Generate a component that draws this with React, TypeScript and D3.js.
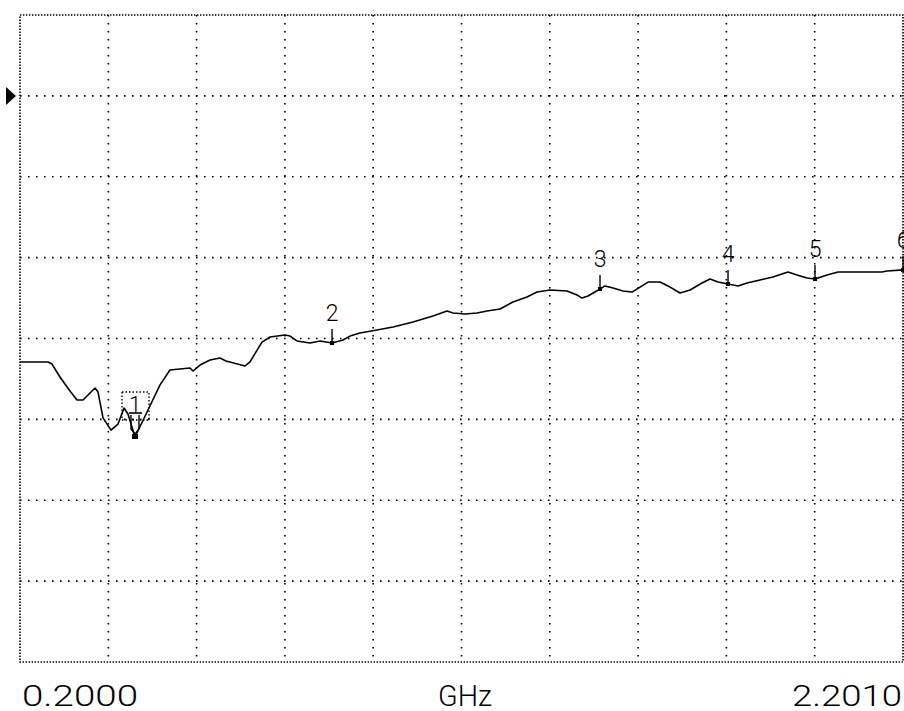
import React from 'react';
import * as d3 from 'd3';

// Trace: frequency (GHz) vs magnitude (dB), ref line = 0 dB, 5 dB/div
const freqGHz = [
  0.2000, 0.2635, 0.2725, 0.2906, 0.3133, 0.3292, 0.3428, 0.3700, 0.3768, 0.3881,
  0.4062, 0.4221, 0.4357, 0.4447, 0.4606, 0.4901, 0.5173, 0.5399, 0.5853, 0.5921,
  0.6079, 0.6306, 0.6532, 0.6668, 0.7099, 0.7212, 0.7484, 0.7666, 0.8005, 0.8119,
  0.8277, 0.8572, 0.8799, 0.9071, 0.9320, 0.9478, 0.9705, 1.0090, 1.0453, 1.0906,
  1.1359, 1.1677, 1.1813, 1.2085, 1.2357, 1.2583, 1.2878, 1.3172, 1.3490, 1.3716,
  1.4011, 1.4396, 1.4623, 1.4736, 1.4872, 1.5144, 1.5257, 1.5439, 1.5665, 1.5869,
  1.6096, 1.6232, 1.6504, 1.6685, 1.6957, 1.7184, 1.7455, 1.7637, 1.7818, 1.8045,
  1.8271, 1.8475, 1.8770, 1.9064, 1.9404, 1.9608, 1.9835, 2.0016, 2.0288, 2.0538,
  2.0877, 2.1195, 2.1535, 2.1648, 2.2011,
];
const magDb = [
  -16.45, -16.45, -16.58, -17.38, -18.25, -18.80, -18.80, -18.06, -18.31, -19.91,
  -20.66, -20.29, -19.30, -19.67, -21.09, -19.42, -17.87, -16.95, -16.82, -17.01,
  -16.64, -16.33, -16.21, -16.39, -16.70, -16.45, -15.22, -14.91, -14.78, -14.85,
  -15.15, -15.28, -15.15, -15.28, -15.09, -14.85, -14.66, -14.47, -14.29, -13.98,
  -13.61, -13.30, -13.42, -13.49, -13.42, -13.30, -13.18, -12.74, -12.43, -12.13,
  -12.00, -12.06, -12.31, -12.50, -12.37, -11.94, -11.75, -11.88, -12.06, -12.13,
  -11.75, -11.51, -11.51, -11.75, -12.19, -12.00, -11.57, -11.32, -11.51, -11.63,
  -11.75, -11.57, -11.38, -11.20, -10.89, -11.07, -11.26, -11.32, -11.07, -10.89,
  -10.89, -10.89, -10.89, -10.83, -10.76,
];

const markerIds = ['1', '2', '3', '4', '5', '6'];
const markerFreqGHz = [0.4606, 0.9071, 1.5144, 1.8045, 2.0016, 2.2011];
const activeMarker = '1';

const startFreqGHz = 0.2;
const stopFreqGHz = 2.201;
const startLabel = '0.2000';
const stopLabel = '2.2010';
const unitLabel = 'GHz';
const topDb = 5;
const bottomDb = -35;
const refDb = 0;
const divX = 10;
const divY = 8;

function interpAt(f: number): number {
  const i = d3.bisectLeft(freqGHz, f);
  if (i <= 0) return magDb[0];
  if (i >= freqGHz.length) return magDb[magDb.length - 1];
  const f0 = freqGHz[i - 1], f1 = freqGHz[i];
  const t = (f - f0) / (f1 - f0);
  return magDb[i - 1] + t * (magDb[i] - magDb[i - 1]);
}

export default function App() {
  const W = 904, H = 711;
  const L = 20, R = 903, T = 15, B = 662;
  const x = d3.scaleLinear().domain([startFreqGHz, stopFreqGHz]).range([L, R]);
  const y = d3.scaleLinear().domain([bottomDb, topDb]).range([B, T]);
  const pts: [number, number][] = freqGHz.map((f, i) => [f, magDb[i]]);
  const line = d3.line<[number, number]>().x(d => x(d[0])).y(d => y(d[1]));

  const gx = d3.range(1, divX).map(k => L + ((R - L) * k) / divX);
  const gy = d3.range(1, divY).map(k => T + ((B - T) * k) / divY);
  const font = 'Roboto, "DejaVu Sans", sans-serif';
  const refY = y(refDb);

  return (
    <svg width={W} height={H} style={{ position: 'absolute', left: 0, top: 0, background: '#fff' }}>
      <rect x={0} y={0} width={W} height={H} fill="#fff" />
      {/* grid */}
      {gx.map((gxv, i) => (
        <line key={'vx' + i} x1={gxv} x2={gxv} y1={T} y2={B} stroke="#000" strokeWidth={1.6} strokeDasharray="1.6 6.4" />
      ))}
      {gy.map((gyv, i) => (
        <line key={'hy' + i} x1={L} x2={R} y1={gyv} y2={gyv} stroke="#000" strokeWidth={1.6} strokeDasharray="1.6 6.4" />
      ))}
      {/* frame */}
      <rect x={L} y={T} width={R - L} height={B - T} fill="none" stroke="#000" strokeWidth={1.6} strokeDasharray="1.4 1.6" />
      {/* reference arrow */}
      <path d={`M6,${refY - 9} L16,${refY} L6,${refY + 9} Z`} fill="#000" />
      {/* trace */}
      <path d={line(pts) || ''} fill="none" stroke="#000" strokeWidth={1.6} strokeLinejoin="round" />
      {/* markers */}
      {markerIds.map((id, i) => {
        const px = x(markerFreqGHz[i]);
        const py = y(interpAt(markerFreqGHz[i]));
        if (id === activeMarker) {
          return (
            <g key={'m' + id}>
              <rect x={px - 13} y={py - 45} width={27} height={28} fill="none" stroke="#000" strokeWidth={1.4} strokeDasharray="1.5 2" />
              <text x={px} y={py - 25} fontFamily={font} fontSize={22} fontWeight={300} textAnchor="middle" fill="#000">{id}</text>
              <line x1={px - 6} x2={px + 7} y1={py - 24} y2={py - 24} stroke="#000" strokeWidth={1.6} />
              <path d={`M${px - 4},${py - 22} L${px - 4},${py - 8} L${px},${py - 3} L${px + 4},${py - 8} L${px + 4},${py - 22}`} fill="none" stroke="#000" strokeWidth={1.4} />
              <rect x={px - 3} y={py - 3} width={6} height={5} fill="#000" />
            </g>
          );
        }
        return (
          <g key={'m' + id}>
            <text x={px} y={py - 22} fontFamily={font} fontSize={23} fontWeight={300} textAnchor="middle" fill="#000">{id}</text>
            <line x1={px} x2={px} y1={py - 14} y2={py} stroke="#000" strokeWidth={1.4} />
            <rect x={px - 2} y={py - 2} width={4} height={4} fill="#000" />
          </g>
        );
      })}
      {/* axis annotations */}
      <text x={22} y={706} fontFamily={font} fontSize={30} fontWeight={300} textLength={116} lengthAdjust="spacingAndGlyphs" fill="#000">{startLabel}</text>
      <text x={438} y={706} fontFamily={font} fontSize={29} fontWeight={300} textLength={54} lengthAdjust="spacingAndGlyphs" fill="#000">{unitLabel}</text>
      <text x={792} y={706} fontFamily={font} fontSize={30} fontWeight={300} textLength={110} lengthAdjust="spacingAndGlyphs" fill="#000">{stopLabel}</text>
    </svg>
  );
}
